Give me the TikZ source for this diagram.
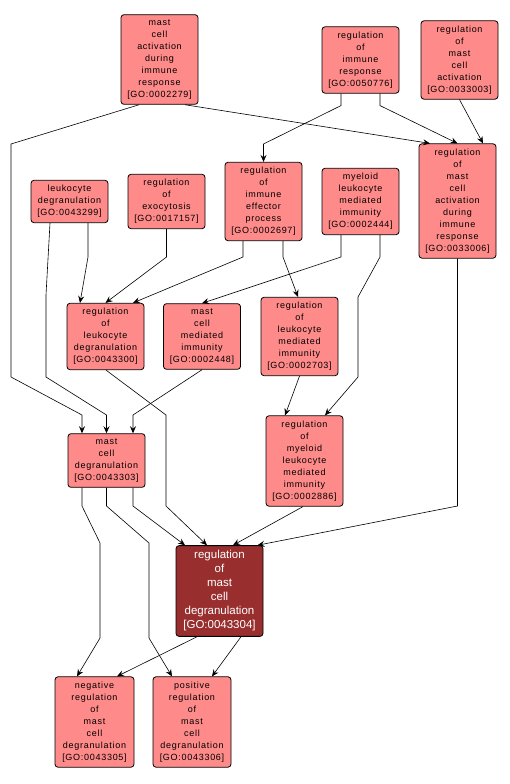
\documentclass[tikz,border=0pt]{standalone}
\usepackage{fontspec}
\setmainfont{Liberation Sans}
\newfontfamily\termfont[LetterSpace=8]{Liberation Sans}
\usetikzlibrary{arrows.meta}
\definecolor{termfill}{RGB}{255,138,138}
\definecolor{focusfill}{RGB}{153,46,46}

\begin{document}
\begin{tikzpicture}[x=1pt,y=-1pt]
      \tikzset{term/.style={draw, rounded corners=3pt, fill=termfill, align=center, minimum width=77pt, inner xsep=2pt, inner ysep=5pt, line width=0.8pt, font=\termfont\fontsize{9}{12}\selectfont},
               focus/.style={term, fill=focusfill, text=white, minimum width=87pt, font=\fontsize{11.5}{14}\selectfont},
               link/.style={-{Stealth[length=7pt,width=6pt,inset=2.5pt]}, line width=0.6pt}}
      \useasboundingbox[fill=white] (0,0) rectangle (509,784);
%% Terms
      \node[term] (mcadir) at (159.5,59.5) {mast\\cell\\activation\\during\\immune\\response\\{}[GO:0002279]};
      \node[term] (regimm) at (360.5,60) {regulation\\of\\immune\\response\\{}[GO:0050776]};
      \node[term] (regmca) at (459.5,60) {regulation\\of\\mast\\cell\\activation\\{}[GO:0033003]};
      \node[term] (regmcadir) at (457.5,201) {regulation\\of\\mast\\cell\\activation\\during\\immune\\response\\{}[GO:0033006]};
      \node[term] (leudeg) at (69.5,201.5) {leukocyte\\degranulation\\{}[GO:0043299]};
      \node[term] (regexo) at (166.5,201.5) {regulation\\of\\exocytosis\\{}[GO:0017157]};
      \node[term] (regimmeff) at (263.5,201.5) {regulation\\of\\immune\\effector\\process\\{}[GO:0002697]};
      \node[term] (myemed) at (360.5,201.5) {myeloid\\leukocyte\\mediated\\immunity\\{}[GO:0002444]};
      \node[term] (regleudeg) at (105.5,336.5) {regulation\\of\\leukocyte\\degranulation\\{}[GO:0043300]};
      \node[term] (mcmed) at (202,336.5) {mast\\cell\\mediated\\immunity\\{}[GO:0002448]};
      \node[term] (regleumed) at (299.5,336.5) {regulation\\of\\leukocyte\\mediated\\immunity\\{}[GO:0002703]};
      \node[term] (mcdeg) at (106.5,460.5) {mast\\cell\\degranulation\\{}[GO:0043303]};
      \node[term] (regmyemed) at (304.5,461) {regulation\\of\\myeloid\\leukocyte\\mediated\\immunity\\{}[GO:0002886]};
      \node[focus] (regmcdeg) at (219.5,591) {regulation\\of\\mast\\cell\\degranulation\\{}[GO:0043304]};
      \node[term, minimum width=79pt] (negregmcdeg) at (94.5,722) {negative\\regulation\\of\\mast\\cell\\degranulation\\{}[GO:0043305]};
      \node[term, minimum width=78pt] (posregmcdeg) at (192,722) {positive\\regulation\\of\\mast\\cell\\degranulation\\{}[GO:0043306]};
%Links
      \draw[link] ([xshift=25.5pt]mcadir.south) -- ([xshift=-27.5pt]regmcadir.north);
      \draw[link] ([xshift=-20.5pt]mcadir.south) -- (11,144) -- (11,377) -- (82,415) -- ([xshift=-24.5pt]mcdeg.north);
      \draw[link] ([xshift=-19.5pt]regimm.south) -- ++(0,12) -- (263.5,144) -- (regimmeff.north);
      \draw[link] ([xshift=19.5pt]regimm.south) -- ++(0,12) -- (regmcadir.north);
      \draw[link] (regmca.south) -- ([xshift=25.5pt]regmcadir.north);
      \draw[link] ([xshift=-19.5pt]leudeg.south) -- (46,295) -- (46,377) -- (106.5,415) -- (mcdeg.north);
      \draw[link] ([xshift=18.5pt]leudeg.south) -- (88,257) -- ([xshift=-25.5pt]regleudeg.north);
      \draw[link] (regexo.south) -- (166.5,257) -- (regleudeg.north);
      \draw[link] ([xshift=-20.5pt]regimmeff.south) -- (243,257) -- ([xshift=27.5pt]regleudeg.north);
      \draw[link] ([xshift=19.5pt]regimmeff.south) -- (283,257) -- ([xshift=-1.5pt]regleumed.north);
      \draw[link] ([xshift=-19.5pt]myemed.south) -- (341,257) -- (mcmed.north);
      \draw[link] ([xshift=19.5pt]myemed.south) -- (380,257) -- (358,297) -- (358,377) -- ([xshift=20.5pt]regmyemed.north);
      \draw[link] ([xshift=0.5pt]regleudeg.south) -- (166,415) -- (166,506) -- ([xshift=-12.5pt]regmcdeg.north);
      \draw[link] (mcmed.south) -- (133,415) -- ([xshift=26.5pt]mcdeg.north);
      \draw[link] (regleumed.south) -- ([xshift=-19.5pt]regmyemed.north);
      \draw[link] (regmcadir.south) -- (457.5,506) -- ([xshift=38pt]regmcdeg.north);
      \draw[link] ([xshift=-1.5pt]regmyemed.south) -- ([xshift=13.5pt]regmcdeg.north);
      \draw[link] ([xshift=26.5pt]mcdeg.south) -- (133,506) -- ([xshift=-34.5pt]regmcdeg.north);
      \draw[link] ([xshift=-24.5pt]mcdeg.south) -- (82,506) -- (100,543) -- (100,638) -- ([xshift=-17.5pt]negregmcdeg.north);
      \draw[link] (mcdeg.south) -- (106.5,506) -- (149,543) -- (149,638) -- ([xshift=-20pt]posregmcdeg.north);
      \draw[link] ([xshift=-22.5pt]regmcdeg.south) -- ([xshift=22.5pt]negregmcdeg.north);
      \draw[link] ([xshift=21.5pt]regmcdeg.south) -- ([xshift=20pt]posregmcdeg.north);
\end{tikzpicture}
\end{document}
